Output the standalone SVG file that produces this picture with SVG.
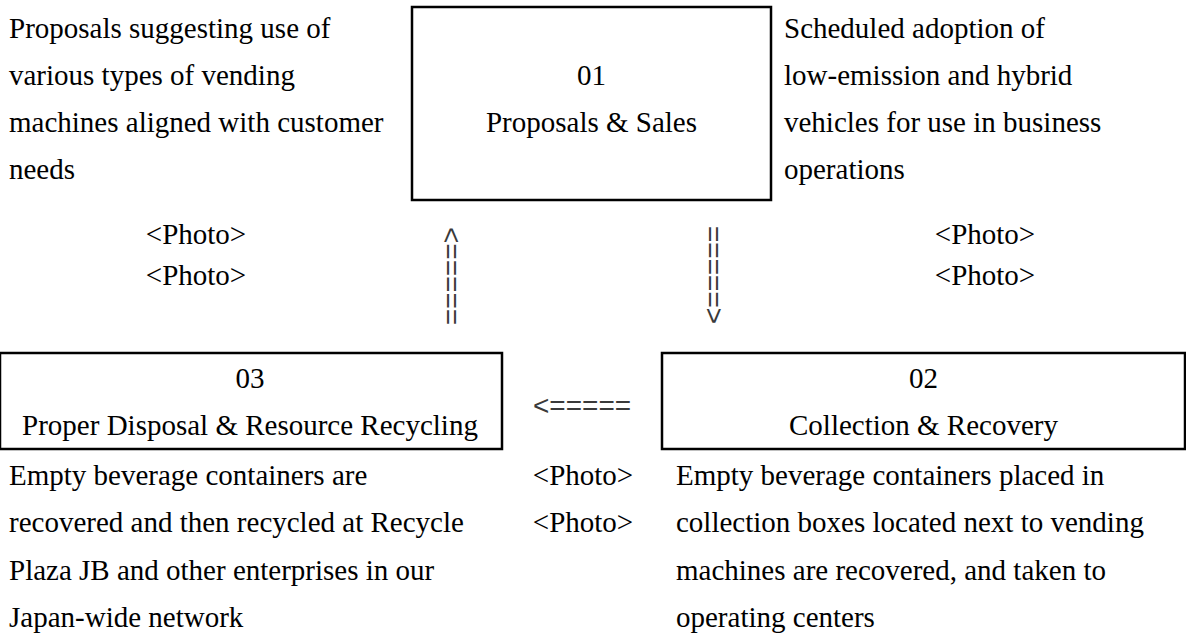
<svg xmlns="http://www.w3.org/2000/svg" width="1186" height="637" viewBox="0 0 1186 637">
<style>
  .t { font-family: "Liberation Serif", "Times New Roman", serif; font-size: 29px; fill: #000; }
  .c { text-anchor: middle; }
  .box { fill: none; stroke: #000; stroke-width: 2.5; }
  .arr { font-family: "Liberation Sans", Arial, sans-serif; font-size: 28px; fill: #3a3a3a; }
</style>
<rect width="1186" height="637" fill="#fff"/>
<g id="node-01">
  <rect class="box" x="412" y="7" width="359" height="193"/>
  <text class="t c" x="591.5" y="85">01</text>
  <text class="t c" x="591.5" y="132">Proposals &amp; Sales</text>
</g>
<g id="note-01-left">
  <text class="t" x="9" y="38">Proposals suggesting use of</text>
  <text class="t" x="9" y="85">various types of vending</text>
  <text class="t" x="9" y="132">machines aligned with customer</text>
  <text class="t" x="9" y="179">needs</text>
  <text class="t c" x="196" y="244">&lt;Photo&gt;</text>
  <text class="t c" x="196" y="285">&lt;Photo&gt;</text>
</g>
<g id="note-01-right">
  <text class="t" x="784" y="38">Scheduled adoption of</text>
  <text class="t" x="784" y="85">low-emission and hybrid</text>
  <text class="t" x="784" y="132">vehicles for use in business</text>
  <text class="t" x="784" y="179">operations</text>
  <text class="t c" x="985" y="244">&lt;Photo&gt;</text>
  <text class="t c" x="985" y="285">&lt;Photo&gt;</text>
</g>
<g id="node-03">
  <rect class="box" x="0" y="353" width="502" height="96"/>
  <text class="t c" x="250" y="388">03</text>
  <text class="t c" x="250" y="435">Proper Disposal &amp; Resource Recycling</text>
</g>
<g id="node-02">
  <rect class="box" x="662" y="353" width="523" height="96"/>
  <text class="t c" x="923.5" y="388">02</text>
  <text class="t c" x="923.5" y="435">Collection &amp; Recovery</text>
</g>
<g id="note-03">
  <text class="t" x="9" y="485">Empty beverage containers are</text>
  <text class="t" x="9" y="532">recovered and then recycled at Recycle</text>
  <text class="t" x="9" y="580">Plaza JB and other enterprises in our</text>
  <text class="t" x="9" y="627">Japan-wide network</text>
  <text class="t c" x="583" y="485">&lt;Photo&gt;</text>
  <text class="t c" x="583" y="532">&lt;Photo&gt;</text>
</g>
<g id="note-02">
  <text class="t" x="676" y="485">Empty beverage containers placed in</text>
  <text class="t" x="676" y="532">collection boxes located next to vending</text>
  <text class="t" x="676" y="580">machines are recovered, and taken to</text>
  <text class="t" x="676" y="627">operating centers</text>
</g>
<g id="connectors">
  <text class="arr" transform="translate(452,227) rotate(90)" dy="0.35em">&lt;=====</text>
  <text class="arr" transform="translate(713,324) rotate(-90)" dy="0.35em">&lt;=====</text>
  <text class="arr" x="533" y="415">&lt;=====</text>
</g>
</svg>
